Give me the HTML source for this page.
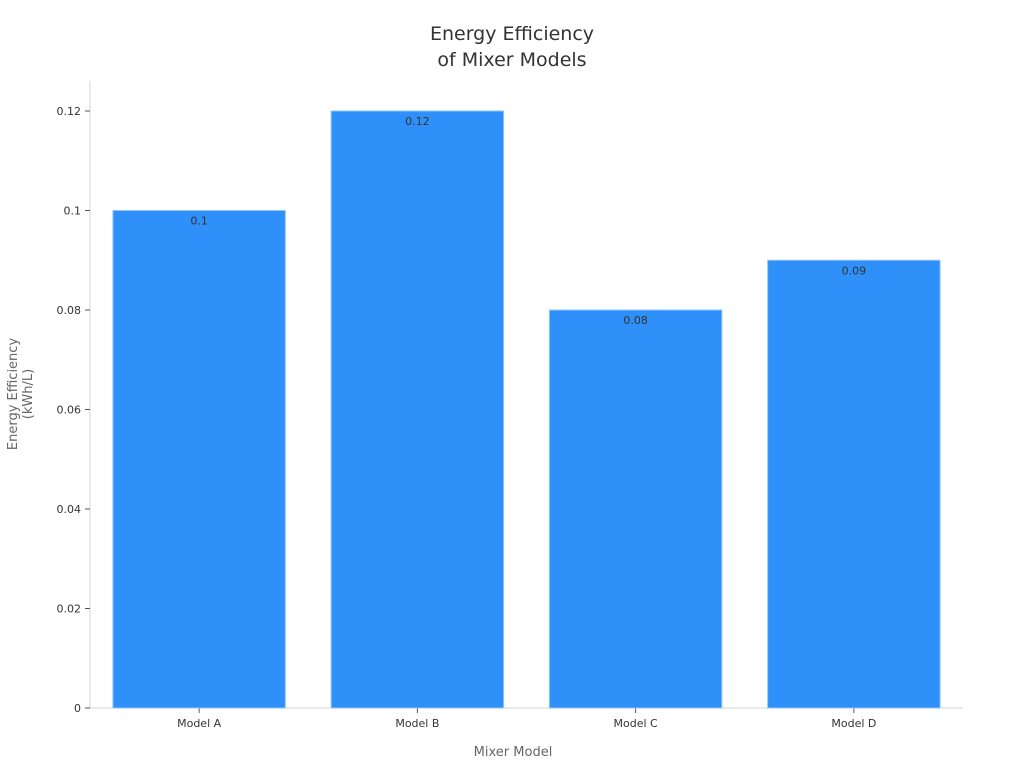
<!DOCTYPE html>
<html><head><meta charset="utf-8"><style>
body{margin:0;background:#fff;}
svg{display:block;font-family:"DejaVu Sans","Liberation Sans",sans-serif;}
</style></head><body>
<svg id="chart" width="1024" height="768">
<text x="512" y="40" text-anchor="middle" font-size="19" fill="#333"><tspan x="512">Energy Efficiency</tspan><tspan x="512" dy="26">of Mixer Models</tspan></text>
<g id="yaxis"></g>
<g id="xaxis"></g>
<g id="bars"></g>
<text x="513" y="756" text-anchor="middle" font-size="13" fill="#666">Mixer Model</text>
<text transform="translate(17,394) rotate(-90)" text-anchor="middle" font-size="13" fill="#666"><tspan x="0" dy="0">Energy Efficiency</tspan><tspan x="0" dy="15">(kWh/L)</tspan></text>
</svg>
<script>
const categories=["Model A","Model B","Model C","Model D"];
const values=[0.1,0.12,0.08,0.09];
const valueLabels=["0.1","0.12","0.08","0.09"];
const yTicks=[0,0.02,0.04,0.06,0.08,0.1,0.12];
const yTickLabels=["0","0.02","0.04","0.06","0.08","0.1","0.12"];
const NS="http://www.w3.org/2000/svg";
const L=90,R=963,T=81,B=708,yMax=0.12,yTop=111;
const y=v=>B-(v/yMax)*(B-yTop);
const band=(R-L)/categories.length;
const x=i=>L+band*i;
function mk(t,a,p){const e=document.createElementNS(NS,t);for(const k in a)e.setAttribute(k,a[k]);p.appendChild(e);return e;}
const ya=document.getElementById('yaxis'),xa=document.getElementById('xaxis'),bg=document.getElementById('bars');
let ln=mk('line',{x1:L,x2:L,y1:T,y2:B,stroke:'#d6d6d6'},ya);


yTicks.forEach((v,i)=>{
 const t=mk('line',{x1:L-5,x2:L,y1:y(v),y2:y(v),stroke:'#555'},ya);
 
 
 const tx=mk('text',{x:L-9,y:y(v)+4,'text-anchor':'end','font-size':11,fill:'#333'},ya);
 tx.textContent=yTickLabels[i];
 
 
});
let xl=mk('line',{x1:L,x2:R,y1:B,y2:B,stroke:'#d6d6d6'},xa);


categories.forEach((c,i)=>{
 const cx=x(i)+band/2;
 const t=mk('line',{x1:cx,x2:cx,y1:B,y2:B+5,stroke:'#555'},xa);
 
 
 const tx=mk('text',{x:cx,y:B+19,'text-anchor':'middle','font-size':11,fill:'#333'},xa);
 tx.textContent=c;
 
 
 const pad=band*0.105;
 const r=mk('rect',{x:x(i)+pad,y:y(values[i]),width:band-2*pad,height:B-y(values[i]),fill:'#2e90f8',stroke:'#8fc4fb','stroke-width':1},bg);
 
 
 const vl=mk('text',{x:cx,y:y(values[i])+14,'text-anchor':'middle','font-size':11,fill:'#333'},bg);
 vl.textContent=valueLabels[i];
 
 
});
</script>
</body></html>
